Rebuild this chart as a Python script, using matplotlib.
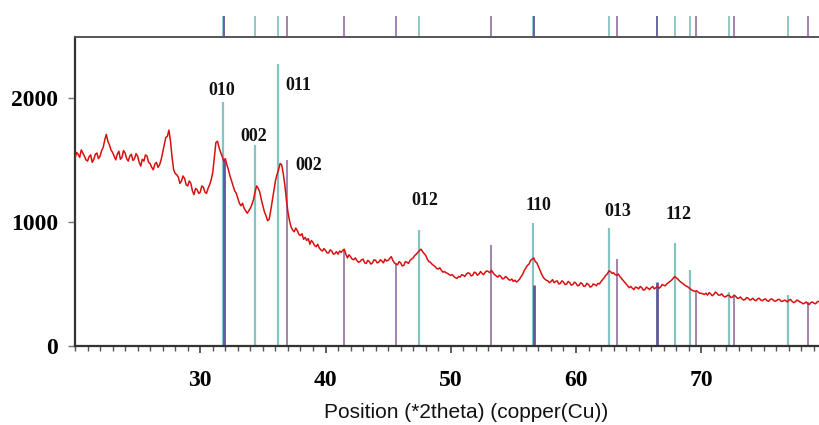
import numpy as np
import matplotlib
matplotlib.use("Agg")
import matplotlib.pyplot as plt

# ---------------- data ----------------
two_theta_start = 20.0
two_theta_step = 0.125
intensity = [
    1510, 1560, 1545, 1520, 1580, 1555, 1530, 1500,   # 20
    1490, 1525, 1540, 1480, 1505, 1545, 1555, 1510,   # 21
    1530, 1575, 1600, 1660, 1705, 1650, 1620, 1580,   # 22
    1560, 1530, 1500, 1545, 1570, 1505, 1520, 1575,   # 23
    1555, 1510, 1490, 1530, 1545, 1495, 1510, 1550,   # 24
    1530, 1480, 1450, 1505, 1490, 1540, 1530, 1480,   # 25
    1470, 1440, 1420, 1465, 1480, 1440, 1460, 1500,   # 26
    1560, 1620, 1680, 1690, 1740, 1650, 1520, 1420,   # 27
    1390, 1380, 1360, 1310, 1330, 1370, 1350, 1300,   # 28
    1290, 1330, 1310, 1250, 1220, 1270, 1260, 1230,   # 29
    1240, 1290, 1280, 1240, 1230, 1270, 1300, 1340,   # 30
    1400, 1520, 1640, 1650, 1600, 1560, 1530, 1490,   # 31
    1510, 1460, 1420, 1370, 1330, 1290, 1250, 1230,   # 32
    1190, 1150, 1130, 1150, 1110, 1090, 1070, 1090,   # 33
    1110, 1140, 1180, 1240, 1290, 1270, 1240, 1180,   # 34
    1130, 1080, 1050, 1010, 1020, 1090, 1170, 1250,   # 35
    1330, 1380, 1420, 1470, 1460, 1390, 1300, 1180,   # 36
    1080, 1010, 960, 935, 920, 950, 930, 900,         # 37
    890, 905, 860, 875, 850, 865, 820, 850,           # 38
    835, 810, 800, 820, 790, 775, 765, 785,           # 39
    770, 750, 750, 775, 765, 740, 745, 760,           # 40
    740, 765, 755, 770, 780, 740, 710, 735,           # 41
    720, 700, 695, 710, 690, 675, 680, 695,           # 42
    700, 670, 665, 690, 680, 660, 670, 695,           # 43
    690, 670, 675, 695, 685, 670, 700, 685,           # 44
    690, 705, 720, 690, 670, 660, 655, 680,           # 45
    670, 645, 650, 680, 675, 665, 690, 700,           # 46
    710, 730, 740, 755, 770, 780, 760, 745,           # 47
    730, 700, 680, 675, 660, 650, 640, 625,           # 48
    620, 630, 610, 595, 600, 590, 585, 575,           # 49
    570, 575, 560, 550, 545, 560, 555, 575,           # 50
    570, 560, 580, 590, 585, 565, 570, 595,           # 51
    590, 570, 580, 600, 585, 575, 595, 605,           # 52
    600, 590, 610, 590, 575, 565, 555, 570,           # 53
    560, 540, 545, 560, 550, 535, 530, 540,           # 54
    520, 530, 515, 525, 540, 560, 580, 610,           # 55
    630, 650, 660, 690, 700, 710, 680, 670,           # 56
    640, 610, 580, 555, 540, 530, 525, 510,           # 57
    520, 535, 510, 520, 525, 500, 505, 525,           # 58
    515, 495, 500, 520, 510, 490, 495, 515,           # 59
    505, 485, 490, 510, 500, 480, 485, 505,           # 60
    495, 475, 480, 500, 495, 485, 505, 500,           # 61
    520, 535, 550, 570, 580, 605, 600, 585,           # 62
    590, 575, 570, 580, 560, 545, 530, 515,           # 63
    500, 485, 470, 480, 465, 455, 475, 470,           # 64
    460, 480, 470, 450, 455, 475, 465, 455,           # 65
    470, 480, 460, 470, 480, 465, 475, 495,           # 66
    490, 485, 500, 510, 520, 530, 545, 560,           # 67
    550, 540, 525, 515, 505, 495, 485, 480,           # 68
    470, 460, 450, 445, 440, 445, 435, 425,           # 69
    425, 420, 415, 425, 410, 430, 420, 405,           # 70
    415, 435, 425, 410, 410, 420, 405, 395,           # 71
    400, 410, 405, 390, 395, 410, 400, 385,           # 72
    385, 395, 380, 370, 375, 390, 385, 370,           # 73
    375, 385, 370, 365, 380, 385, 370, 365,           # 74
    375, 380, 365, 360, 375, 380, 370, 360,           # 75
    365, 375, 375, 360, 360, 370, 365, 355,           # 76
    370, 375, 360, 350, 355, 370, 365, 355,           # 77
    350, 340, 345, 355, 340, 335, 350, 355,           # 78
    345, 340, 355, 360, 350,                          # 79
]
two_theta = two_theta_start + two_theta_step * np.arange(len(intensity))

# reference pattern sticks
teal_pos = [31.8, 34.35, 36.2, 47.45, 56.6, 62.65, 67.9, 69.1, 72.25, 76.95]
teal_height = [1970, 1620, 2270, 933, 992, 947, 830, 616, 435, 409]
purple_pos = [36.95, 41.5, 45.65, 53.2, 63.3, 69.6, 72.6, 78.55]
purple_height = [1500, 785, 665, 812, 705, 435, 409, 355]
navy_pos = [31.88, 56.63, 66.5]
navy_height = [1500, 490, 516]

# peak labels
peak_labels = ["010", "002", "011", "002", "012", "110", "013", "112"]
peak_label_x = [31.75, 34.3, 37.8, 38.65, 47.9, 57.0, 63.3, 68.2]
peak_label_y = [2060, 1690, 2100, 1455, 1175, 1130, 1080, 1060]

x_ticks = [30, 40, 50, 60, 70]
y_ticks = [0, 1000, 2000]
x_label = "Position (*2theta) (copper(Cu))"

# ---------------- plot ----------------
teal_c = "#86c3c3"
purple_c = "#9c7aa6"
navy_c = "#5c5a9c"

fig = plt.figure(figsize=(8.19, 4.25), dpi=100)
ax = fig.add_axes([75 / 819, 1 - 346 / 425, 744 / 819, 309 / 425])

ax.vlines(teal_pos, 0, teal_height, colors=teal_c, lw=1.6, zorder=2)
ax.vlines(purple_pos, 0, purple_height, colors=purple_c, lw=1.3, zorder=2)
ax.vlines(navy_pos, 0, navy_height, colors=navy_c, lw=2.0, zorder=2)

ax.plot(two_theta, intensity, color="#d81010", lw=1.1, zorder=3)

# marker strip above the axes
xt = ax.get_xaxis_transform()
ax.vlines(teal_pos, 1.0, 1.068, colors=teal_c, lw=1.3, transform=xt, clip_on=False)
ax.vlines(purple_pos, 1.0, 1.068, colors=purple_c, lw=1.3, transform=xt, clip_on=False)
ax.vlines(navy_pos, 1.0, 1.068, colors=navy_c, lw=1.3, transform=xt, clip_on=False)

serif = "Liberation Serif"
for lab, lx, ly in zip(peak_labels, peak_label_x, peak_label_y):
    ax.text(lx, ly, lab, ha="center", va="center", family=serif,
            fontweight="bold", fontsize=13, color="#111111", zorder=4)

ax.set_xlim(20.0, 79.4)
ax.set_ylim(0, 2490)
ax.set_xticks(x_ticks)
ax.set_xticks(np.arange(20, 80, 1), minor=True)
ax.set_yticks(y_ticks)
ax.tick_params(axis="x", which="major", direction="out", length=5, width=1.2,
               color="#444444", pad=12)
ax.tick_params(axis="x", which="minor", direction="out", length=3.5, width=1.0,
               color="#555555")
ax.tick_params(axis="y", direction="out", length=5, width=1.0, color="#777777", pad=7)
for lab in ax.get_xticklabels() + ax.get_yticklabels():
    lab.set_fontfamily(serif)
    lab.set_fontweight("bold")
    lab.set_fontsize(17)

for s in ["left", "bottom"]:
    ax.spines[s].set_color("#333333")
    ax.spines[s].set_linewidth(1.6)
ax.spines["top"].set_color("#555555")
ax.spines["top"].set_linewidth(1.4)
ax.spines["right"].set_visible(False)

fig.text(466 / 819, 1 - 413 / 425, x_label, ha="center", va="center",
         family="Liberation Sans", fontsize=15, color="#111111")

fig.savefig("out.png", dpi=100)
